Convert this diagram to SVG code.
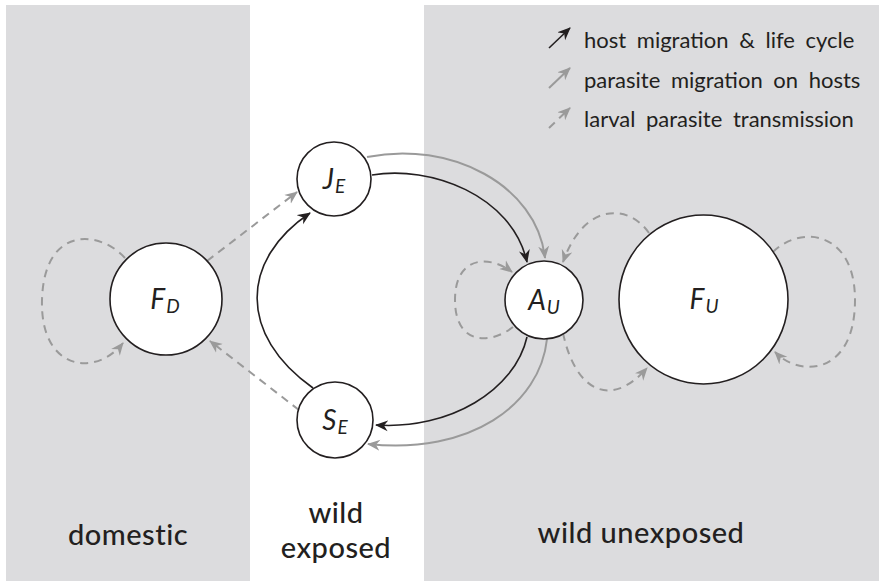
<svg xmlns="http://www.w3.org/2000/svg" width="879" height="581" viewBox="0 0 879 581">
<defs>
<style>
.panel{fill:#dcdcde}
.node circle{fill:#fff;stroke:#231f20;stroke-width:1.6}
.lbl{font-family:Lato,"Open Sans","DejaVu Sans",sans-serif;font-style:italic;font-size:28px;fill:#231f20;text-anchor:middle;letter-spacing:1px}
.sub{font-size:19px;letter-spacing:0}
.region{font-family:Lato,"Open Sans","DejaVu Sans",sans-serif;font-size:29px;fill:#231f20;text-anchor:middle;font-weight:500;letter-spacing:0.5px}
.leg{font-family:Lato,"Open Sans","DejaVu Sans",sans-serif;font-size:22px;fill:#231f20;word-spacing:5px}
.host{fill:none;stroke:#231f20;stroke-width:1.6;marker-end:url(#mBlack)}
.para{fill:none;stroke:#9a9a9a;stroke-width:2;marker-end:url(#mGray)}
.larv{fill:none;stroke:#9a9a9a;stroke-width:2;stroke-dasharray:8 6;marker-end:url(#mGray)}
</style>
<marker id="mBlack" markerUnits="userSpaceOnUse" markerWidth="14" markerHeight="12" refX="12" refY="5.5" orient="auto" viewBox="0 0 14 11">
<path d="M0,0 L13,5.5 L0,11 L4,5.5 z" fill="#231f20"/>
</marker>
<marker id="mGray" markerUnits="userSpaceOnUse" markerWidth="14" markerHeight="12" refX="12" refY="5.5" orient="auto" viewBox="0 0 14 11">
<path d="M0,0 L13,5.5 L0,11 L4,5.5 z" fill="#9a9a9a"/>
</marker>
</defs>
<rect x="0" y="0" width="879" height="581" fill="#fff"/>
<rect class="panel" x="6" y="5" width="244" height="576"/>
<rect class="panel" x="424" y="5" width="455" height="576"/>

<g id="legend">
<line class="host" x1="549" y1="48" x2="570" y2="28"/>
<text class="leg" x="584" y="48">host migration &amp; life cycle</text>
<line class="para" x1="549" y1="88" x2="570" y2="68"/>
<text class="leg" x="584" y="88">parasite migration on hosts</text>
<line class="larv" x1="549" y1="128" x2="570" y2="108" stroke-dasharray="5 4"/>
<text class="leg" x="584" y="127">larval parasite transmission</text>
</g>

<g id="connectors">
<path class="host" d="M372,175 C430,165 512,195 527,262"/>
<path class="para" d="M367,157 C450,140 537,185 545,258"/>
<path class="host" d="M527,337 C515,390 450,430 376,425"/>
<path class="para" d="M547,339 C540,405 470,455 368,444"/>
<path class="host" d="M313,388 C238,335 240,260 310,213"/>
<path class="larv" d="M125,258 C100,230 44,225 42,300 C40,370 95,378 123,343"/>
<path class="larv" d="M207,261 L297,192"/>
<path class="larv" d="M299,410 L210,341"/>
<path class="larv" d="M513,327 C490,345 455,345 455,300 C455,255 490,255 512,272"/>
<path class="larv" d="M563,333 C575,390 610,410 647,368"/>
<path class="larv" d="M649,233 C630,205 585,200 563,262"/>
<path class="larv" d="M773,252 C800,225 855,230 855,300 C855,375 800,378 775,352"/>
</g>

<g id="FD" class="node"><circle cx="166" cy="299" r="56"/><text class="lbl" x="165" y="309">F<tspan class="sub" dy="4">D</tspan></text></g>
<g id="JE" class="node"><circle cx="334" cy="179" r="37"/><text class="lbl" x="334" y="189">J<tspan class="sub" dy="4">E</tspan></text></g>
<g id="SE" class="node"><circle cx="335" cy="420" r="38"/><text class="lbl" x="335" y="430">S<tspan class="sub" dy="4">E</tspan></text></g>
<g id="AU" class="node"><circle cx="544" cy="300" r="39"/><text class="lbl" x="544" y="310">A<tspan class="sub" dy="4">U</tspan></text></g>
<g id="FU" class="node"><circle cx="703.5" cy="299.5" r="84.5"/><text class="lbl" x="704" y="309">F<tspan class="sub" dy="4">U</tspan></text></g>

<g id="regions">
<text class="region" x="128" y="545">domestic</text>
<text class="region" x="336" y="523">wild</text>
<text class="region" x="336" y="558">exposed</text>
<text class="region" x="641" y="543">wild unexposed</text>
</g>
</svg>
